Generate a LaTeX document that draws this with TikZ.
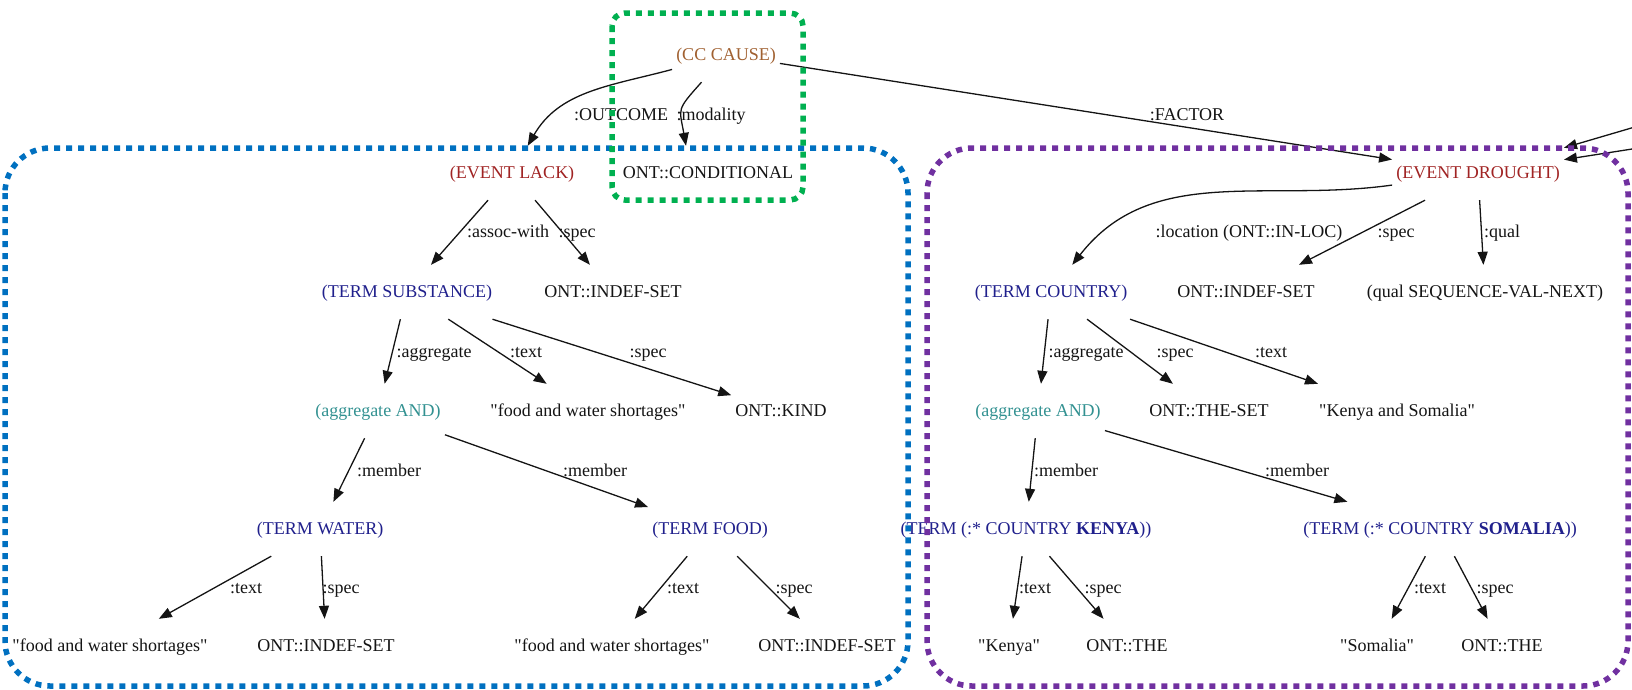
\documentclass[tikz,border=0pt]{standalone}
\usepackage{fontspec}
% no TeX input mapping, so " stays a straight quote
\setmainfont{Liberation Serif}[Ligatures=TeXOff]
\usetikzlibrary{arrows.meta}

\definecolor{inkblack}{RGB}{20,20,20}
\definecolor{cccol}{RGB}{160,96,48}
\definecolor{eventcol}{RGB}{160,35,35}
\definecolor{termcol}{RGB}{32,32,140}
\definecolor{aggcol}{RGB}{50,145,145}
\definecolor{greenbox}{RGB}{0,176,80}
\definecolor{bluebox}{RGB}{0,112,192}
\definecolor{purplebox}{RGB}{112,48,160}

\tikzset{
  nd/.style={rectangle, inner xsep=4pt, inner ysep=0pt, minimum height=54pt,
             text height=13pt, text depth=3pt, text=inkblack},
  ccnode/.style={nd, text=cccol},
  eventnode/.style={nd, text=eventcol},
  termnode/.style={nd, text=termcol},
  aggnode/.style={nd, text=aggcol},
  lbl/.style={inner sep=0pt, text height=13pt, text depth=3pt, text=inkblack},
  edge/.style={draw=inkblack, line width=1.3pt, -{Triangle[length=13pt,width=10pt]}},
  groupbox/.style={line width=5.5pt, dash pattern=on 6pt off 6pt, line cap=butt},
}

\begin{document}
\begin{tikzpicture}[x=1pt, y=1pt, font=\fontsize{18}{20}\selectfont]
\useasboundingbox (0,0) rectangle (1632,-689);

% ---- nodes ----
\node[ccnode] (cc) at (726,-55) {(CC CAUSE)};
\node[nd] (cond) at (708,-173) {ONT::CONDITIONAL};
\node[eventnode] (lack) at (512,-173) {(EVENT LACK)};
\node[eventnode] (drought) at (1478,-173) {(EVENT DROUGHT)};

\node[termnode] (subst) at (407,-292) {(TERM SUBSTANCE)};
\node[nd] (lackspec) at (613,-292) {ONT::INDEF-SET};
\node[aggnode] (aggL) at (378,-411) {(aggregate AND)};
\node[nd] (subtext) at (588,-411) {"food and water shortages"};
\node[nd] (kind) at (781,-411) {ONT::KIND};
\node[termnode] (water) at (320,-529) {(TERM WATER)};
\node[termnode] (food) at (710,-529) {(TERM FOOD)};
\node[nd] (wtext) at (110,-646) {"food and water shortages"};
\node[nd] (wspec) at (326,-646) {ONT::INDEF-SET};
\node[nd] (ftext) at (612,-646) {"food and water shortages"};
\node[nd] (fspec) at (827,-646) {ONT::INDEF-SET};

\node[termnode] (country) at (1051,-292) {(TERM COUNTRY)};
\node[nd] (dspec) at (1246,-292) {ONT::INDEF-SET};
\node[nd] (qual) at (1485,-292) {(qual SEQUENCE-VAL-NEXT)};
\node[aggnode] (aggR) at (1038,-411) {(aggregate AND)};
\node[nd] (theset) at (1209,-411) {ONT::THE-SET};
\node[nd] (ks) at (1397,-411) {"Kenya and Somalia"};
\node[termnode] (kenya) at (1026,-529) {(TERM (:* COUNTRY \textbf{KENYA}))};
\node[termnode] (somalia) at (1440,-529) {(TERM (:* COUNTRY \textbf{SOMALIA}))};
\node[nd] (ktext) at (1009,-646) {"Kenya"};
\node[nd] (kthe) at (1127,-646) {ONT::THE};
\node[nd] (stext) at (1377,-646) {"Somalia"};
\node[nd] (sthe) at (1502,-646) {ONT::THE};

% incoming edges from outside the frame
\coordinate (offA) at (1645,-124);
\coordinate (offB) at (1645,-147);

% ---- edge labels ----
\node[lbl] (l-outcome) at (621,-115) {:OUTCOME};
\node[lbl] (l-modality) at (711,-115) {:modality};
\node[lbl] (l-factor) at (1187,-115) {:FACTOR};
\node[lbl] (l-assoc) at (508,-232) {:assoc-with};
\node[lbl] (l-lackspec) at (577,-232) {:spec};
\node[lbl] (l-aggL) at (434,-352) {:aggregate};
\node[lbl] (l-subtext) at (526,-352) {:text};
\node[lbl] (l-kind) at (648,-352) {:spec};
\node[lbl] (l-memW) at (389,-471) {:member};
\node[lbl] (l-memF) at (595,-471) {:member};
\node[lbl] (l-wtext) at (246,-588) {:text};
\node[lbl] (l-wspec) at (341,-588) {:spec};
\node[lbl] (l-ftext) at (683,-588) {:text};
\node[lbl] (l-fspec) at (794,-588) {:spec};
\node[lbl] (l-loc) at (1249,-232) {:location (ONT::IN-LOC)};
\node[lbl] (l-dspec) at (1396,-232) {:spec};
\node[lbl] (l-qual) at (1502,-232) {:qual};
\node[lbl] (l-aggR) at (1086,-352) {:aggregate};
\node[lbl] (l-theset) at (1175,-352) {:spec};
\node[lbl] (l-ks) at (1271,-352) {:text};
\node[lbl] (l-memK) at (1066,-471) {:member};
\node[lbl] (l-memS) at (1297,-471) {:member};
\node[lbl] (l-ktext) at (1035,-588) {:text};
\node[lbl] (l-kthe) at (1103,-588) {:spec};
\node[lbl] (l-stext) at (1430,-588) {:text};
\node[lbl] (l-sthe) at (1495,-588) {:spec};

% ---- edges ----
\draw[edge] (cc) to[out=195,in=60] (lack);
\draw[edge] (cc) to[out=228,in=100,looseness=1.5] ([xshift=-22pt]cond.north);
\draw[edge] (cc) -- (drought);
\draw[edge] (offA) -- (drought);
\draw[edge] (offB) -- (drought);

\draw[edge] (lack) -- (subst);
\draw[edge] (lack) -- (lackspec);
\draw[edge] (subst) -- (aggL);
\draw[edge] (subst) -- (subtext);
\draw[edge] (subst) -- (kind);
\draw[edge] (aggL) -- (water);
\draw[edge] (aggL) -- (food);
\draw[edge] (water) -- (wtext);
\draw[edge] (water) -- (wspec);
\draw[edge] (food) -- (ftext);
\draw[edge] (food) -- (fspec);

\draw[edge] (drought) to[out=188,in=52] (country);
\draw[edge] (drought) -- (dspec);
\draw[edge] (drought) -- (qual);
\draw[edge] (country) -- (aggR);
\draw[edge] (country) -- (theset);
\draw[edge] (country) -- (ks);
\draw[edge] (aggR) -- (kenya);
\draw[edge] (aggR) -- (somalia);
\draw[edge] (kenya) -- (ktext);
\draw[edge] (kenya) -- (kthe);
\draw[edge] (somalia) -- (stext);
\draw[edge] (somalia) -- (sthe);

% ---- dotted group frames ----
\draw[groupbox, draw=bluebox, rounded corners=45pt] (5,-148) rectangle (908,-686);
\draw[groupbox, draw=purplebox, rounded corners=45pt] (927,-148) rectangle (1628,-686);
\draw[groupbox, draw=greenbox, rounded corners=13pt] (612,-13) rectangle (803,-200);
\end{tikzpicture}
\end{document}
